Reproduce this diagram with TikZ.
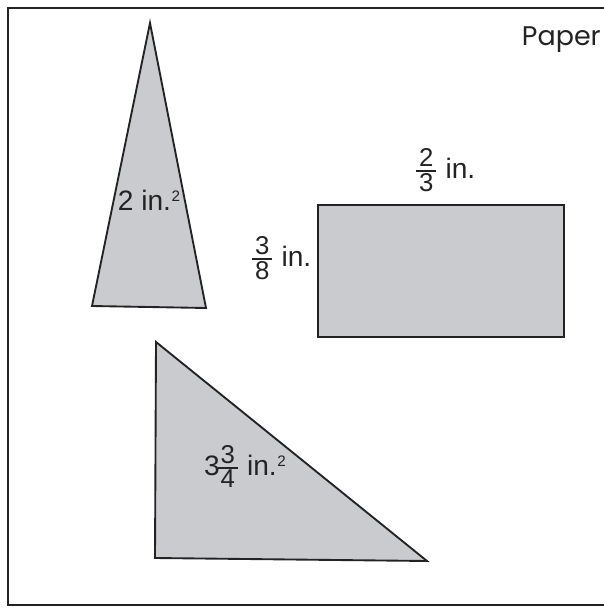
\documentclass[tikz,border=0pt]{standalone}
\usepackage{amsmath}
\usepackage{fontspec}
\setmainfont{Liberation Sans}
\newfontfamily\paperfont{Poppins}
\usetikzlibrary{calc}

\definecolor{shapegray}{RGB}{201,203,206}
\definecolor{inkgray}{RGB}{35,35,35}

\newcommand{\fracfont}{\fontsize{22}{22}\selectfont}
\newcommand{\lenfrac}[2]{$\genfrac{}{}{1.4pt}{1}{\text{\fracfont\kern2.5pt#1\kern2.5pt}}{\text{\fracfont\kern2.5pt#2\kern2.5pt}}$}
\newcommand{\sqin}{in.\kern0.5pt\raisebox{7pt}{\fontsize{13}{13}\selectfont 2}}

\begin{document}
\begin{tikzpicture}[x=0.03cm, y=-0.03cm,
    figure/.style={draw=inkgray, line width=1.6pt, fill=shapegray},
    lbl/.style={font=\fontsize{24}{28}\selectfont, text=inkgray, inner sep=0pt, anchor=base}]
    \useasboundingbox (0,0) rectangle (603,612);

    % sheet of paper
    \draw[inkgray, line width=1.6pt] (620,8) -- (8,8) -- (8,605) -- (620,605);
    \node[lbl, anchor=base east, font=\paperfont\fontsize{23}{26}\selectfont] (paper) at (601,45) {Paper};

    % tall triangle
    \coordinate (A) at (150,23);
    \coordinate (B) at (92,306);
    \coordinate (C) at (206,308);
    \draw[figure] (A) -- (B) -- (C) -- cycle;
    \node[lbl] (area1) at (149,210) {2 \sqin};

    % rectangle
    \coordinate (P) at (318,205);
    \coordinate (Q) at (564,337);
    \draw[figure] (P) rectangle (Q);
    \node[lbl] (width) at (445,178) {\lenfrac{2}{3} in.};
    \node[lbl] (height) at (281,266) {\lenfrac{3}{8} in.};

    % right triangle
    \coordinate (D) at (156,342);
    \coordinate (E) at (155,558);
    \coordinate (F) at (427,561);
    \draw[figure] (D) -- (E) -- (F) -- cycle;
    \node[lbl] (area2) at (245,475) {3\kern-3pt\lenfrac{3}{4} \sqin};
\end{tikzpicture}
\end{document}
